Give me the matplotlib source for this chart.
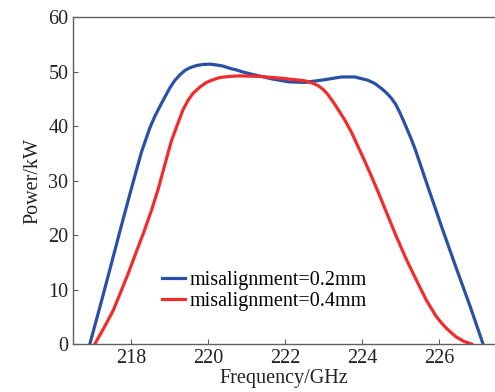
import matplotlib
matplotlib.use('Agg')
import matplotlib.pyplot as plt

# values
freq_02 = [216.93, 217.20, 217.47, 217.73, 218.00, 218.27, 218.49, 218.62,
           218.75, 218.87, 219.00, 219.13, 219.27, 219.40, 219.53, 219.70,
           219.87, 220.05, 220.22, 220.39, 220.56, 220.73, 220.91, 221.08,
           221.26, 221.69, 222.10, 222.51, 223.03, 223.46, 223.81, 224.15,
           224.33, 224.50, 224.63, 224.76, 224.87, 224.97, 225.06, 225.15,
           225.27, 225.38, 225.71, 226.07, 226.44, 226.80, 227.14]
power_02 = [0.0, 7.0, 14.2, 21.2, 28.3, 35.2, 39.7, 41.8,
            43.6, 45.2, 46.9, 48.3, 49.4, 50.2, 50.7, 51.1,
            51.3, 51.35, 51.2, 51.0, 50.6, 50.3, 49.9, 49.6,
            49.3, 48.6, 48.1, 48.0, 48.5, 49.0, 49.0, 48.4,
            47.8, 46.9, 46.1, 45.1, 44.0, 42.6, 41.2, 39.7,
            37.7, 35.7, 28.8, 21.4, 14.0, 7.0, 0.0]

freq_04 = [217.06, 217.30, 217.54, 217.73, 217.93, 218.12, 218.32, 218.53,
           218.70, 218.92, 219.05, 219.18, 219.27, 219.35, 219.48, 219.61,
           219.78, 219.96, 220.13, 220.31, 220.55, 220.82, 221.34, 221.86,
           222.12, 222.51, 222.70, 222.86, 222.99, 223.12, 223.25, 223.37,
           223.55, 223.72, 223.87, 224.02, 224.21, 224.41, 224.89, 225.15,
           225.41, 225.67, 225.93, 226.07, 226.20, 226.44, 226.64, 226.84]
power_04 = [0.0, 3.0, 6.2, 9.5, 13.0, 16.6, 20.3, 24.5,
            28.3, 34.0, 37.3, 39.8, 41.5, 43.0, 44.7, 46.0,
            47.1, 48.0, 48.5, 48.9, 49.1, 49.2, 49.1, 48.8,
            48.6, 48.3, 47.9, 47.4, 46.7, 45.7, 44.4, 43.1,
            41.1, 38.9, 36.6, 34.3, 31.3, 28.0, 19.7, 15.5,
            11.7, 8.0, 5.0, 3.8, 2.8, 1.3, 0.5, 0.0]

labels = ['misalignment=0.2mm', 'misalignment=0.4mm']
x_ticks = [218, 220, 222, 224, 226]
y_ticks = [0, 10, 20, 30, 40, 50, 60]

plt.rcParams['font.family'] = ['Liberation Serif', 'DejaVu Serif']
plt.rcParams['font.size'] = 14.5

fig = plt.figure(figsize=(4.95, 3.92), dpi=100)
ax = fig.add_axes([0.148, 0.1224, 0.852, 0.8342])

ax.plot(freq_02, power_02, color='#2a50a6', lw=2.3, label=labels[0],
        solid_joinstyle='round')
ax.plot(freq_04, power_04, color='#f22b2b', lw=2.3, label=labels[1],
        solid_joinstyle='round')

ax.set_xlim(216.5, 227.45)
ax.set_ylim(0, 60)
ax.set_xticks(x_ticks)
ax.set_yticks(y_ticks)

ax.spines['right'].set_visible(False)
for s in ['left', 'bottom', 'top']:
    ax.spines[s].set_color('#606060')
    ax.spines[s].set_linewidth(1.0)
ax.tick_params(direction='in', length=3.5, width=0.8, color='#606060',
               labelcolor='#222222', labelsize=14.5, pad=3.5)

ax.set_xlabel('Frequency/GHz', fontsize=14.5, color='#222222', labelpad=1)
ax.set_ylabel('Power/kW', fontsize=14.5, color='#222222', labelpad=4)

ax.legend(loc='center left', bbox_to_anchor=(0.21, 0.162), frameon=False,
          borderpad=0, borderaxespad=0, handlelength=1.15,
          handletextpad=0.25, labelspacing=0.1, fontsize=14.5)

fig.savefig('out.png', dpi=100)
plt.close(fig)
